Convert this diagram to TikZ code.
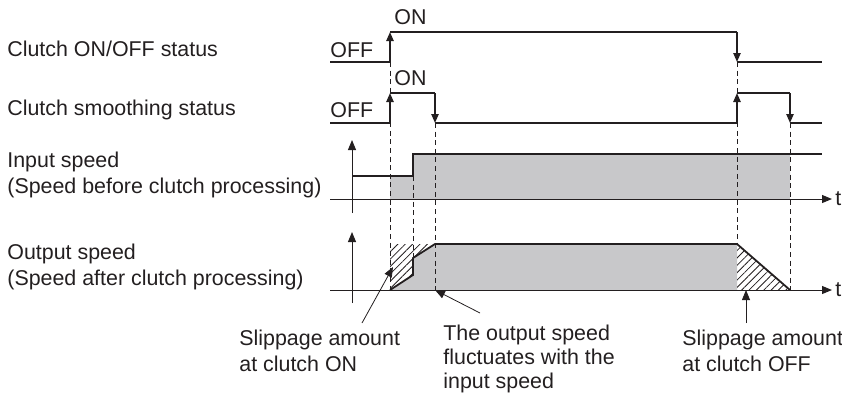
\documentclass[tikz,border=0pt]{standalone}
\usepackage{fontspec}
\setmainfont{Liberation Sans}
\usetikzlibrary{arrows.meta,patterns.meta,positioning}
\definecolor{inkgrey}{RGB}{35,31,32}
\definecolor{fillgrey}{RGB}{200,200,202}

\begin{document}
\begin{tikzpicture}[x=0.5pt,y=-0.5pt,
  font=\fontsize{10.7}{13}\selectfont,
  every node/.style={text=inkgrey,inner sep=0pt},
  signal/.style={draw=inkgrey,line width=0.9pt},
  edgetip/.style={-{Triangle[length=4.5pt,width=3.6pt]}},
  axis/.style={draw=inkgrey,line width=0.5pt,-{Triangle[length=5pt,width=4pt]}},
  guide/.style={draw=inkgrey,line width=0.5pt,dash pattern=on 2.5pt off 1.8pt},
  speedfill/.style={fill=fillgrey},
  slip/.style={pattern={Lines[angle=45,distance=2.6pt,line width=0.4pt]},pattern color=inkgrey},
  callout/.style={draw=inkgrey,line width=0.4pt,-{Triangle[length=5pt,width=4pt]}},
  rowlabel/.style={anchor=west,align=left}
]
\useasboundingbox (0,0) rectangle (842,392);

% Row labels
\node[rowlabel] (lblclutch) at (7,49) {Clutch ON/OFF status};
\node[rowlabel] (lblsmooth) at (7,110) {Clutch smoothing status};
\node[rowlabel] (lblin) at (7,175) {Input speed\\(Speed before clutch processing)};
\node[rowlabel] (lblout) at (7,267) {Output speed\\(Speed after clutch processing)};

% --- Filled areas ---
\fill[speedfill] (390,199) -- (390,176) -- (413,176) -- (413,154) -- (790,154) -- (790,199) -- cycle;
\fill[speedfill] (390,290) -- (413,275) -- (413,258) -- (435,244) -- (737,244) -- (737,290) -- cycle;
\fill[slip] (390,244) -- (435,244) -- (413,258) -- (413,275) -- (390,290) -- cycle;
\fill[slip] (737,244) -- (790,290) -- (737,290) -- cycle;

% --- Timing guides ---
\draw[guide] (390,62) -- (390,290);
\draw[guide] (413,176) -- (413,258);
\draw[guide] (435,123) -- (435,290);
\draw[guide] (737,62) -- (737,244);
\draw[guide] (790,123) -- (790,290);

% --- Clutch ON/OFF status ---
\node[anchor=west] (off1) at (330,50) {OFF};
\node[anchor=west] (on1) at (394,17) {ON};
\draw[signal] (330,62) -- (390,62);
\draw[signal,edgetip] (390,62) -- (390,32);
\draw[signal] (390,32) -- (737,32);
\draw[signal,edgetip] (737,32) -- (737,62);
\draw[signal] (737,62) -- (822,62);

% --- Clutch smoothing status ---
\node[anchor=west] (off2) at (330,110) {OFF};
\node[anchor=west] (on2) at (394,78) {ON};
\draw[signal] (330,123) -- (390,123);
\draw[signal,edgetip] (390,123) -- (390,93);
\draw[signal] (390,93) -- (435,93);
\draw[signal,edgetip] (435,93) -- (435,123);
\draw[signal] (435,123) -- (737,123);
\draw[signal,edgetip] (737,123) -- (737,93);
\draw[signal] (737,93) -- (790,93);
\draw[signal,edgetip] (790,93) -- (790,123);
\draw[signal] (790,123) -- (822,123);

% --- Input speed ---
\coordinate (inorigin) at (352,213);
\coordinate (inaxisend) at (832,199);
\draw[axis] (inorigin) -- (352,140);
\draw[axis] (330,199) -- (inaxisend);
\node[right=1.5pt of inaxisend] (tin) {t};
\draw[signal] (352,176) -- (413,176) -- (413,154) -- (822,154);

% --- Output speed ---
\coordinate (outorigin) at (352,303);
\coordinate (outaxisend) at (832,290);
\draw[axis] (outorigin) -- (352,232);
\draw[axis] (330,290) -- (outaxisend);
\node[right=1.5pt of outaxisend] (tout) {t};
\draw[signal] (390,290) -- (413,275) -- (413,258) -- (435,244) -- (737,244) -- (790,290);

% --- Callouts ---
\node[anchor=west,align=left] (sliponnote) at (239,351) {Slippage amount\\at clutch ON};
\node[anchor=west,align=left,font=\fontsize{10.7}{12.2}\selectfont] (fluctnote) at (443,359) {The output speed\\fluctuates with the\\input speed};
\node[anchor=west,align=left] (slipoffnote) at (682,351) {Slippage amount\\at clutch OFF};
\coordinate (slipontail) at (362,323);
\coordinate (sliponhead) at (393,267);
\coordinate (flucttail) at (480,313);
\coordinate (fluctheadpt) at (435,290);
\coordinate (slipofftail) at (746,323);
\coordinate (slipoffhead) at (746,290);
\draw[callout] (slipontail) -- (sliponhead);
\draw[callout] (flucttail) -- (fluctheadpt);
\draw[callout] (slipofftail) -- (slipoffhead);
\end{tikzpicture}
\end{document}
